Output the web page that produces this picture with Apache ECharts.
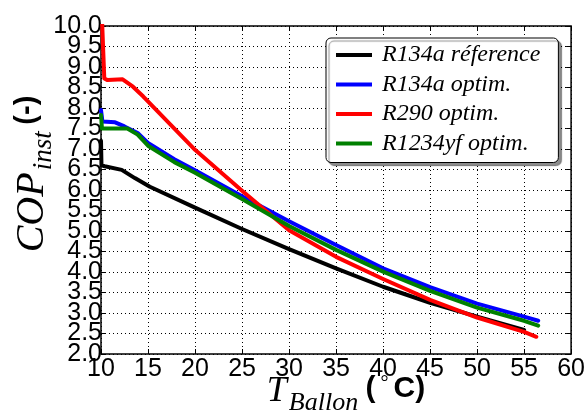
<!DOCTYPE html>
<html><head><meta charset="utf-8">
<script src="https://cdn.jsdelivr.net/npm/echarts@6/dist/echarts.min.js"></script>
<style>html,body{margin:0;padding:0;background:#fff}#c{width:588px;height:410px}</style>
</head><body><div id="c"></div>
<script>
const seriesNames = ['R134a réference', 'R134a optim.', 'R290 optim.', 'R1234yf optim.'];
const seriesColors = ['#000000', '#0000ff', '#ff0000', '#008000'];
const refX = [10, 10.05, 10.4, 12.2, 13.6, 15.2, 20, 25, 30, 35, 40, 45, 50, 55];
const refY = [7.2, 6.6, 6.58, 6.49, 6.29, 6.08, 5.57, 5.05, 4.56, 4.09, 3.64, 3.25, 2.91, 2.59];
const r134X = [10, 10.15, 11.5, 12.5, 13.9, 15, 17.8, 20, 25, 30, 35, 40, 45, 50, 55, 56.5];
const r134Y = [7.95, 7.67, 7.65, 7.55, 7.39, 7.15, 6.75, 6.48, 5.85, 5.24, 4.66, 4.09, 3.63, 3.23, 2.91, 2.81];
const r290X = [10, 10.35, 10.7, 12.3, 13.4, 14.5, 20, 25, 30, 35, 40, 45, 50, 55, 56.3];
const r290Y = [10.8, 8.72, 8.68, 8.7, 8.52, 8.28, 6.98, 5.98, 5.02, 4.37, 3.83, 3.32, 2.89, 2.54, 2.42];
const r1234X = [10, 10.1, 12.8, 13.9, 15, 17.8, 20, 25, 30, 35, 40, 45, 50, 55, 56.5];
const r1234Y = [7.83, 7.5, 7.5, 7.35, 7.08, 6.68, 6.42, 5.78, 5.12, 4.54, 4.01, 3.54, 3.13, 2.81, 2.69];
const xMin = 10, xMax = 60, xStep = 5;
const yMin = 2, yMax = 10, yStep = 0.5;

const xs = [refX, r134X, r290X, r1234X];
const ys = [refY, r134Y, r290Y, r1234Y];
const tickFont = "'Liberation Sans Narrow', 'Liberation Sans', Arial, sans-serif";
const mathFont = "'Liberation Serif', 'Times New Roman', serif";
const boldFont = "'Liberation Sans', Arial, sans-serif";

const chart = echarts.init(document.getElementById('c'), null, {renderer: 'canvas'});
const axisCommon = {
  type: 'value',
  axisLine: {show: false},
  axisTick: {show: true, inside: true, length: 5, lineStyle: {color: '#000', width: 1}},
};
const yLabelStyle = {color: '#000', fontFamily: tickFont, fontSize: 25, margin: -1,
  showMinLabel: true, showMaxLabel: true, hideOverlap: false};
const isWhole = v => Math.abs(v - Math.round(v)) < 1e-6;
chart.setOption({
  animation: false,
  backgroundColor: '#fff',
  grid: {left: 101, right: 15, top: 26, bottom: 56, show: true, borderColor: '#000', borderWidth: 1.5, containLabel: false},
  xAxis: [
    Object.assign({}, axisCommon, {
      position: 'bottom', min: xMin, max: xMax, interval: xStep,
      axisLabel: {color: '#000', fontFamily: tickFont, fontSize: 25, margin: 3,
        showMinLabel: true, showMaxLabel: true, hideOverlap: false},
      splitLine: {show: true, lineStyle: {color: '#000', type: [1, 3], width: 1}}
    }),
    Object.assign({}, axisCommon, {
      position: 'top', min: xMin, max: xMax, interval: xStep,
      axisLabel: {show: false}, splitLine: {show: false}
    })
  ],
  yAxis: [
    Object.assign({}, axisCommon, {
      position: 'left', min: yMin, max: yMax, interval: yStep,
      axisLabel: Object.assign({}, yLabelStyle, {formatter: v => isWhole(v) ? v.toFixed(1) : ''}),
      splitLine: {show: true, lineStyle: {color: '#000', type: [1, 3], width: 1}}
    }),
    Object.assign({}, axisCommon, {
      position: 'right', min: yMin, max: yMax, interval: yStep,
      axisLabel: {show: false}, splitLine: {show: false}
    }),
    Object.assign({}, axisCommon, {
      position: 'left', offset: 0, min: yMin, max: yMax, interval: yStep,
      axisTick: {show: false},
      axisLabel: Object.assign({}, yLabelStyle, {formatter: v => isWhole(v) ? '' : v.toFixed(1)}),
      splitLine: {show: false}
    })
  ],
  legend: {
    orient: 'vertical', left: 326, top: 38,
    padding: [5, 18, 7, 10],
    itemGap: 5.5, itemWidth: 36, itemHeight: 4, icon: 'rect',
    backgroundColor: '#fff', borderColor: '#000', borderWidth: 1, borderRadius: 5,
    shadowColor: 'rgba(0,0,0,0.45)', shadowBlur: 1, shadowOffsetX: 3, shadowOffsetY: 3,
    textStyle: {fontFamily: mathFont, fontStyle: 'italic', fontSize: 24, lineHeight: 22, color: '#000', padding: [0, 0, 0, 5]},
    data: seriesNames
  },
  graphic: [
    {
      type: 'text', x: 30, y: 174, rotation: Math.PI / 2,
      style: {
        text: '{m|COP}{s|inst}  {b|(-)}',
        align: 'center', verticalAlign: 'middle',
        rich: {
          m: {fontFamily: mathFont, fontStyle: 'italic', fontSize: 40, lineHeight: 36, verticalAlign: 'top'},
          s: {fontFamily: mathFont, fontStyle: 'italic', fontSize: 27, lineHeight: 24, padding: [18, 0, 0, 2], verticalAlign: 'top'},
          b: {fontFamily: boldFont, fontWeight: 'bold', fontSize: 29, lineHeight: 34, verticalAlign: 'top'}
        }
      }
    },
    {
      type: 'text', x: 346, y: 390,
      style: {
        text: '{m|T}{s|Ballon} {b|(}{d|°}{b|C)}',
        align: 'center', verticalAlign: 'middle',
        rich: {
          m: {fontFamily: mathFont, fontStyle: 'italic', fontSize: 36, lineHeight: 32, verticalAlign: 'top'},
          s: {fontFamily: mathFont, fontStyle: 'italic', fontSize: 26, lineHeight: 22, padding: [16, 4, 0, 2], verticalAlign: 'top'},
          d: {fontFamily: mathFont, fontSize: 20, lineHeight: 20, padding: [0, 5, 0, 5], verticalAlign: 'top'},
          b: {fontFamily: boldFont, fontWeight: 'bold', fontSize: 30, lineHeight: 32, verticalAlign: 'top'}
        }
      }
    }
  ],
  series: seriesNames.map((name, i) => ({
    name: name,
    type: 'line',
    xAxisIndex: 0, yAxisIndex: 0,
    data: xs[i].map((x, k) => [x, ys[i][k]]),
    showSymbol: false,
    symbol: 'none',
    clip: true,
    color: seriesColors[i],
    lineStyle: {color: seriesColors[i], width: 4, join: 'round', cap: 'round'},
    z: 3
  }))
});
</script>
</body></html>
